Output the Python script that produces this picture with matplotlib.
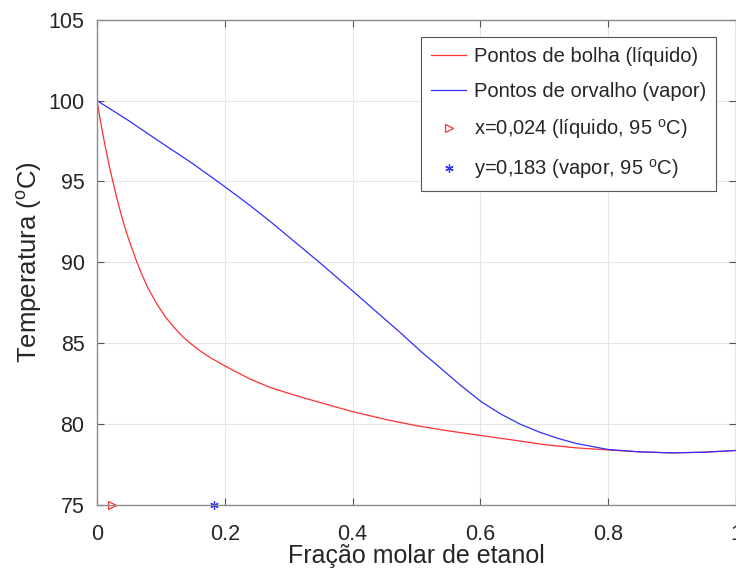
import numpy as np
import matplotlib
matplotlib.use('Agg')
import matplotlib.pyplot as plt

plt.rcParams['font.family'] = ['Liberation Sans', 'DejaVu Sans']
plt.rcParams['mathtext.fontset'] = 'custom'
plt.rcParams['mathtext.rm'] = 'Liberation Sans'

# curva de bolha (liquido)
x_bolha = [0.0, 0.005, 0.01, 0.015, 0.02, 0.024, 0.03, 0.035, 0.042, 0.05, 0.0627, 0.07,
           0.08, 0.094, 0.107, 0.12, 0.135, 0.149, 0.163, 0.178, 0.201, 0.22, 0.24, 0.272,
           0.31, 0.345, 0.397, 0.45, 0.50, 0.55, 0.60, 0.65, 0.70, 0.75, 0.80, 0.85,
           0.90, 0.95, 1.0]
T_bolha = [100.0, 98.83, 97.75, 96.75, 95.83, 95.13, 94.14, 93.36, 92.38, 91.38, 89.98, 89.27,
           88.39, 87.41, 86.63, 86.0, 85.37, 84.9, 84.48, 84.09, 83.58, 83.18, 82.78, 82.25,
           81.78, 81.38, 80.8, 80.3, 79.9, 79.58, 79.3, 79.02, 78.73, 78.53, 78.4, 78.28,
           78.22, 78.26, 78.37]

# curva de orvalho (vapor)
x_orvalho = [0.0, 0.05, 0.094, 0.15, 0.2, 0.24, 0.272, 0.31, 0.345, 0.401, 0.44, 0.475,
             0.5067, 0.538, 0.569, 0.602, 0.632, 0.663, 0.694, 0.721, 0.75, 0.8, 0.85,
             0.9, 0.95, 1.0]
T_orvalho = [100.0, 98.75, 97.57, 96.1, 94.68, 93.5, 92.5, 91.25, 90.1, 88.2, 86.85, 85.64,
             84.5, 83.45, 82.4, 81.36, 80.62, 79.98, 79.48, 79.12, 78.8, 78.43, 78.28,
             78.22, 78.26, 78.37]

# pontos a 95 C
x_liq = 0.024
y_vap = 0.183
T_ponto = 75

fig = plt.figure(figsize=(7.36, 5.68), dpi=100)
ax = fig.add_axes([0.1318, 0.111, 0.8682, 0.8542])

ax.plot(x_bolha, T_bolha, color='#ff3030', lw=0.9, label='Pontos de bolha (líquido)')
ax.plot(x_orvalho, T_orvalho, color='#3030ff', lw=0.9, label='Pontos de orvalho (vapor)')
ax.plot([x_liq], [T_ponto], ls='none', marker='>', markersize=6, markerfacecolor='none',
        markeredgecolor='#ff3030', markeredgewidth=0.9, clip_on=False,
        label='x=0,024 (líquido, 95 $^{\\mathrm{o}}$C)')
ax.plot([y_vap], [T_ponto], ls='none', marker=(6, 2, 0), markersize=6,
        markeredgecolor='#3030ff', markeredgewidth=0.9, clip_on=False,
        label='y=0,183 (vapor, 95 $^{\\mathrm{o}}$C)')

ax.set_xlim(0, 1)
ax.set_ylim(75, 105)
ax.set_xticks([0, 0.2, 0.4, 0.6, 0.8, 1])
ax.set_xticklabels(['0', '0.2', '0.4', '0.6', '0.8', '1'])
ax.set_yticks([75, 80, 85, 90, 95, 100, 105])

ax.grid(True, color='#e6e6e6', lw=0.8)
ax.set_axisbelow(True)
for s in ax.spines.values():
    s.set_color('#8c8c8c')
    s.set_linewidth(1.0)
ax.tick_params(direction='in', length=5, width=0.8, color='#555555', labelsize=15.5,
               labelcolor='#262626', top=True, right=True)
ax.tick_params(axis='x', pad=14)
ax.tick_params(axis='y', pad=9)

ax.set_xlabel('Fração molar de etanol', fontsize=18, color='#262626', labelpad=-1)
ax.set_ylabel('Temperatura ($^{\\mathrm{o}}$C)', fontsize=18.5, color='#262626', labelpad=3)

leg = ax.legend(loc='upper right', bbox_to_anchor=(716 / 736, 1 - 37 / 568),
                bbox_transform=fig.transFigure, borderaxespad=0, fontsize=14.5,
                fancybox=False, framealpha=1, edgecolor='#555555',
                handlelength=1.7, handletextpad=0.4, labelspacing=0.8, borderpad=0.5)
leg.get_frame().set_linewidth(0.8)
for t in leg.get_texts():
    t.set_color('#262626')

fig.savefig('out.png', dpi=100)
